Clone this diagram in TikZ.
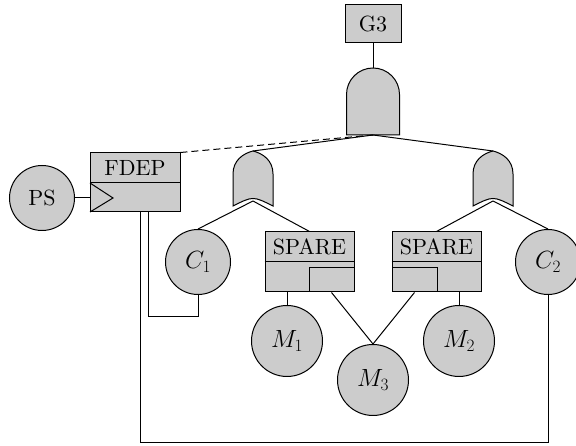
\documentclass[tikz,border=0pt]{standalone}
% text face at the 10pt design size, scaled up
\font\labelfont="[lmroman10-regular]" at 22pt
\tikzset{
  lw/.style={line width=1pt},
  shade/.style={draw=black, fill=black!20, lw},
  txt/.style={font=\fontsize{22}{26}\selectfont\labelfont},
  mathtxt/.style={font=\fontsize{26}{30}\selectfont},
  evt/.style={circle, shade, txt, minimum size=65pt, inner sep=0pt},
  mevt/.style={evt, mathtxt},
  bigevt/.style={mevt, minimum size=71pt},
  boxnode/.style={rectangle, shade, inner sep=0pt},
  wire/.style={lw},
  orgate/.pic={
    \draw[shade] (-20,-27.5) -- (-20,4.5)
      .. controls (-20,18) and (-10,25) .. (0,27.5)
      .. controls (10,25) and (20,18) .. (20,4.5)
      -- (20,-27.5)
      .. controls (0,-17.5) .. (-20,-27.5) -- cycle;
    \coordinate (-tip) at (0,27.5);
    \coordinate (-bot) at (0,-22.5);
  }
}
\begin{document}
\begin{tikzpicture}[x=1pt,y=1pt]
\useasboundingbox (0,0) rectangle (576,446);

% ---- basic events ----
\node[evt] (PS) at (42,248) {PS};
\node[mevt] (C1) at (198,184) {$C_1$};
\node[mevt] (C2) at (548,184) {$C_2$};
\node[bigevt] (M1) at (287,105) {$M_1$};
\node[bigevt] (M2) at (459,105) {$M_2$};
\node[bigevt] (M3) at (373,66) {$M_3$};

% ---- top event and AND gate ----
\node[boxnode, txt, minimum width=56pt, minimum height=38pt] (G3) at (373,422) {G3};
\coordinate (andtop) at (373,378);
\coordinate (andbot) at (373,311);
\draw[wire] (G3.south) -- (andtop);
\draw[shade] (346.5,311) -- (346.5,351.5) arc[start angle=180,end angle=0,radius=26.5]
  -- (399.5,311) -- cycle;

% ---- OR gates ----
\pic (or1) at (253,267.5) {orgate};
\pic (or2) at (493,267.5) {orgate};

% ---- FDEP gate ----
\node[boxnode, minimum width=90pt, minimum height=59pt] (fdep) at (135,263.5) {};
\draw[wire] (90,263) -- (180,263);
\node[txt, inner sep=0pt] (fdeplbl) at (135,278) {FDEP};
\coordinate (trigtop) at (90,263);
\coordinate (trigtip) at (113,248);
\coordinate (trigbot) at (90,234);
\draw[wire] (trigtop) -- (trigtip) -- (trigbot);

% ---- SPARE gates ----
\node[boxnode, minimum width=89pt, minimum height=60pt] (sp1) at (309.5,184) {};
\draw[wire] (sp1.west) -- (sp1.east);
\node[txt, inner sep=0pt] (sp1lbl) at (309.5,199) {SPARE};
\node[boxnode, minimum width=45pt, minimum height=24pt] (sp1in) at (331.5,166) {};

\node[boxnode, minimum width=89pt, minimum height=60pt] (sp2) at (436.5,184) {};
\draw[wire] (sp2.west) -- (sp2.east);
\node[txt, inner sep=0pt] (sp2lbl) at (436.5,199) {SPARE};
\node[boxnode, minimum width=45pt, minimum height=24pt] (sp2in) at (414.5,166) {};

% ---- connectors ----
\draw[wire] (andbot) -- (or1-tip);
\draw[wire] (andbot) -- (or2-tip);
\draw[wire, dash pattern=on 7pt off 4pt] (fdep.north east) -- (andbot);

\draw[wire] (or1-bot) -- (C1.north);
\draw[wire] (or1-bot) -- (sp1.north);
\draw[wire] (or2-bot) -- (sp2.north);
\draw[wire] (or2-bot) -- (C2.north);

\draw[wire] (M1.north) -- (M1.north |- sp1.south);
\draw[wire] (M2.north) -- (M2.north |- sp2.south);
\draw[wire] (sp1in.south) -- (M3.north);
\draw[wire] (sp2in.south) -- (M3.north);

\draw[wire] (PS.east) -- (fdep.west |- PS.east);

% dependency links from FDEP down to the components
\coordinate (dep1) at (148,234);
\coordinate (dep2) at (140,234);
\draw[wire] (dep1) -- (148,129) -| (C1.south);
\draw[wire] (dep2) -- (140,3) -| (C2.south);
\end{tikzpicture}
\end{document}
